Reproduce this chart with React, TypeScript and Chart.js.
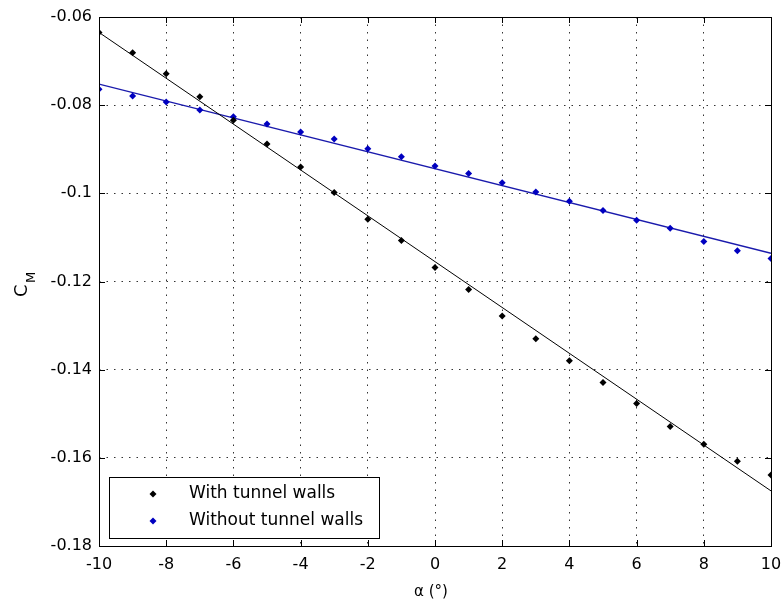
import React, { useEffect, useRef } from "react";
import { Chart, registerables } from "chart.js";

Chart.register(...registerables);

const alpha = [-10, -9, -8, -7, -6, -5, -4, -3, -2, -1, 0, 1, 2, 3, 4, 5, 6, 7, 8, 9, 10];
const withWalls = [
  -0.0635, -0.0681, -0.0729, -0.0781, -0.0834, -0.0888, -0.094, -0.0998, -0.1059, -0.1107,
  -0.1168, -0.1218, -0.1278, -0.133, -0.138, -0.1429, -0.1477, -0.1529, -0.1569, -0.1608, -0.1639,
];
const withoutWalls = [
  -0.0764, -0.0779, -0.0793, -0.0811, -0.0826, -0.0843, -0.0861, -0.0877, -0.0899, -0.0917,
  -0.0938, -0.0955, -0.0976, -0.0997, -0.1018, -0.1039, -0.1061, -0.1079, -0.1109, -0.113, -0.1148,
];
const fitAlpha = [-10, 10];
const fitWith = [-0.0635, -0.1675];
const fitWithout = [-0.0752, -0.1136];
const seriesNames = ["With tunnel walls", "Without tunnel walls"];
const xTitle = "\u03b1 (\u00b0)";
const yTitleMain = "C";
const yTitleSub = "M";

const FONT = "'DejaVu Sans', sans-serif";
const BLACK = "#000000";
const BLUE = "#0000c0";
const BLUE_LINE = "#1a1aac";

const pts = (xs: number[], ys: number[]) => xs.map((x, i) => ({ x, y: ys[i] }));

const framePlugin = {
  id: "frameTicksLegend",
  afterDraw(chart: any) {
    const { ctx, chartArea: a, scales } = chart;
    const xs = scales.x;
    const ys = scales.y;
    ctx.save();
    // frame
    ctx.strokeStyle = "#000";
    ctx.lineWidth = 1;
    ctx.setLineDash([]);
    ctx.strokeRect(Math.round(a.left) + 0.5, Math.round(a.top) + 0.5, Math.round(a.right - a.left), Math.round(a.bottom - a.top));
    // inward ticks
    const tl = 6;
    ctx.beginPath();
    xs.ticks.forEach((t: any) => {
      const px = Math.round(xs.getPixelForValue(t.value)) + 0.5;
      ctx.moveTo(px, a.bottom);
      ctx.lineTo(px, a.bottom - tl);
      ctx.moveTo(px, a.top);
      ctx.lineTo(px, a.top + tl);
    });
    ys.ticks.forEach((t: any) => {
      const py = Math.round(ys.getPixelForValue(t.value)) + 0.5;
      ctx.moveTo(a.left, py);
      ctx.lineTo(a.left + tl, py);
      ctx.moveTo(a.right, py);
      ctx.lineTo(a.right - tl, py);
    });
    ctx.stroke();

    // legend
    const lx = 109, ly = 477, lw = 270, lh = 61;
    ctx.fillStyle = "#fff";
    ctx.fillRect(lx, ly, lw, lh);
    ctx.strokeStyle = "#000";
    ctx.strokeRect(lx + 0.5, ly + 0.5, lw, lh);
    const rows = [
      { name: seriesNames[0], color: BLACK, y: 494 },
      { name: seriesNames[1], color: BLUE, y: 521 },
    ];
    rows.forEach((r) => {
      const mx = 153, r0 = 3.5;
      ctx.fillStyle = r.color;
      ctx.beginPath();
      ctx.moveTo(mx, r.y - r0);
      ctx.lineTo(mx + r0, r.y);
      ctx.lineTo(mx, r.y + r0);
      ctx.lineTo(mx - r0, r.y);
      ctx.closePath();
      ctx.fill();
      ctx.fillStyle = "#000";
      ctx.font = `17px ${FONT}`;
      ctx.textAlign = "left";
      ctx.textBaseline = "middle";
      ctx.fillText(r.name, 189, r.y);
    });

    // x title
    ctx.fillStyle = "#000";
    ctx.font = `15px ${FONT}`;
    ctx.textAlign = "center";
    ctx.textBaseline = "middle";
    ctx.fillText(xTitle, (a.left + a.right) / 2 - 4, 592);

    // y title (rotated)
    ctx.translate(27, 290);
    ctx.rotate(-Math.PI / 2);
    ctx.textAlign = "left";
    ctx.textBaseline = "alphabetic";
    ctx.font = `18px ${FONT}`;
    ctx.fillText(yTitleMain, -7, 0);
    ctx.font = `13px ${FONT}`;
    ctx.fillText(yTitleSub, 7, 8);
    ctx.restore();
  },
};

export default function App() {
  const ref = useRef<HTMLCanvasElement | null>(null);
  useEffect(() => {
    if (!ref.current) return;
    Chart.defaults.font.family = FONT;
    const chart = new Chart(ref.current, {
      type: "scatter",
      data: {
        datasets: [
          {
            label: seriesNames[0],
            data: pts(alpha, withWalls),
            showLine: false,
            pointStyle: "rectRot",
            pointRadius: 3.5,
            backgroundColor: BLACK,
            borderColor: BLACK,
            borderWidth: 0,
          },
          {
            label: seriesNames[1],
            data: pts(alpha, withoutWalls),
            showLine: false,
            pointStyle: "rectRot",
            pointRadius: 3.5,
            backgroundColor: BLUE,
            borderColor: BLUE,
            borderWidth: 0,
          },
          {
            label: "fit1",
            data: pts(fitAlpha, fitWith),
            showLine: true,
            pointRadius: 0,
            borderColor: BLACK,
            borderWidth: 1,
          },
          {
            label: "fit2",
            data: pts(fitAlpha, fitWithout),
            showLine: true,
            pointRadius: 0,
            borderColor: BLUE_LINE,
            borderWidth: 1.3,
          },
        ],
      } as any,
      options: {
        responsive: false,
        animation: false,
        devicePixelRatio: 1,
        layout: { padding: { left: 0, right: 11, top: 17, bottom: 0 } },
        plugins: { legend: { display: false }, tooltip: { enabled: false } },
        scales: {
          x: {
            type: "linear",
            min: -10,
            max: 10,
            afterFit: (s: any) => {
              s.height = 58;
              s.paddingLeft = 0;
              s.paddingRight = 0;
            },
            ticks: {
              stepSize: 2,
              color: "#000",
              font: { size: 16, family: FONT },
              padding: 9,
              maxRotation: 0,
              autoSkip: false,
            },
            grid: { color: "#333", lineWidth: 1, drawTicks: false },
            border: { display: false, dash: [1.5, 6] },
          },
          y: {
            type: "linear",
            min: -0.18,
            max: -0.06,
            afterFit: (s: any) => {
              s.width = 99;
              s.paddingTop = 0;
              s.paddingBottom = 0;
            },
            ticks: {
              stepSize: 0.02,
              color: "#000",
              font: { size: 16, family: FONT },
              padding: 7,
              autoSkip: false,
              callback: (v: any) => String(Number(Number(v).toFixed(2))),
            },
            grid: { color: "#333", lineWidth: 1, drawTicks: false },
            border: { display: false, dash: [1.5, 6] },
          },
        },
      } as any,
      plugins: [framePlugin],
    });
    return () => chart.destroy();
  }, []);
  return (
    <div style={{ position: "fixed", left: 0, top: 0, width: 782, height: 604, background: "#fff" }}>
      <canvas ref={ref} width={782} height={604} style={{ width: 782, height: 604, display: "block" }} />
    </div>
  );
}
